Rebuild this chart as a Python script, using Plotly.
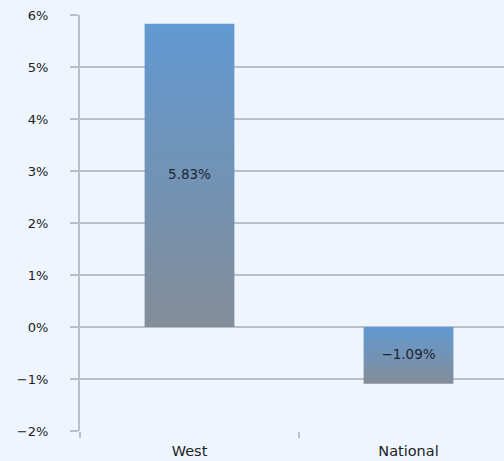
import plotly.graph_objects as go

categories = ["West", "National"]
values = [5.83, -1.09]
labels = ["5.83%", "\u22121.09%"]

bar_width = 0.41
top_color = "#6199d1"
bottom_color = "#838d99"
grid_color = "#b9c0ca"
bg = "#eef5fe"
font_family = "DejaVu Sans"

fig = go.Figure()
for i, v in enumerate(values):
    x0, x1 = i - bar_width / 2, i + bar_width / 2
    fig.add_trace(go.Scatter(
        x=[x0, x1, x1, x0, x0], y=[0, 0, v, v, 0],
        mode="lines", line=dict(width=0), fill="toself",
        fillgradient=dict(type="vertical",
                          colorscale=[[0, bottom_color], [1, top_color]]),
        hoverinfo="skip", showlegend=False,
    ))
fig.add_trace(go.Scatter(
    x=list(range(len(values))), y=[v / 2 for v in values],
    mode="text", text=labels,
    textfont=dict(family=font_family, size=13.5, color="#1e2630"),
    showlegend=False, hoverinfo="skip",
))

fig.update_layout(
    width=504, height=461,
    margin=dict(l=80, r=0, t=15, b=30),
    paper_bgcolor=bg, plot_bgcolor=bg,
    font=dict(family=font_family, size=12, color="#222"),
)
fig.update_xaxes(
    range=[-0.5, -0.5 + (504 - 80) / 219],
    tickvals=list(range(len(categories))), ticktext=categories,
    ticks="", showgrid=False, zeroline=False, automargin=False,
    showline=False, ticklabelstandoff=9,
    minor=dict(tick0=0.5, dtick=1, ticks="outside", ticklen=6,
               tickcolor=grid_color, tickwidth=2, showgrid=False),
    tickfont=dict(size=14.5, color="#222"),
)
fig.update_yaxes(
    range=[-2, 6], dtick=1, ticksuffix="%", automargin=False,
    showgrid=True, gridcolor=grid_color, gridwidth=2,
    zeroline=False, showline=True, linecolor=grid_color, linewidth=2,
    ticks="outside", ticklen=8, tickcolor=grid_color, tickwidth=2,
    ticklabelstandoff=19, tickfont=dict(size=13, color="#222"),
)
fig.write_html("out.html",
               config={"displayModeBar": False, "staticPlot": True},
               post_script="document.body.style.margin='0';document.body.style.overflow='hidden';")
